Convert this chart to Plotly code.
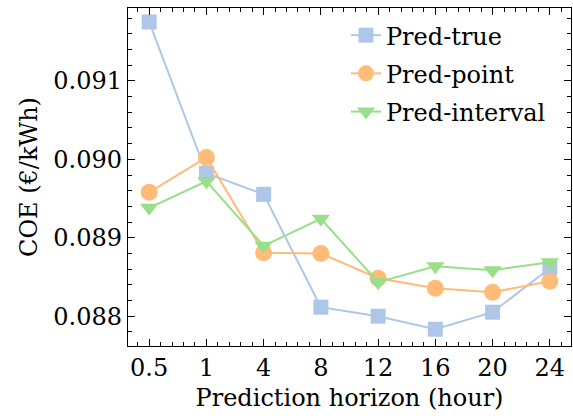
import plotly.graph_objects as go

categories = ["0.5", "1", "4", "8", "12", "16", "20", "24"]
pred_true = [0.091752, 0.089822, 0.089554, 0.088115, 0.088000, 0.087834, 0.088051, 0.088611]
pred_point = [0.089580, 0.090025, 0.088809, 0.088800, 0.088484, 0.088357, 0.088306, 0.088446]
pred_interval = [0.089382, 0.089720, 0.088898, 0.089242, 0.088433, 0.088637, 0.088586, 0.088688]

xpos = list(range(len(categories)))
FONT = "DejaVu Serif"

fig = go.Figure()
series = [
    ("Pred-true", pred_true, "#aec7e8", "square", 15),
    ("Pred-point", pred_point, "#ffbb78", "circle", 17),
    ("Pred-interval", pred_interval, "#98df8a", "triangle-down", 16),
]
for name, vals, col, sym, sz in series:
    fig.add_trace(go.Scatter(
        x=xpos, y=vals, name=name, mode="lines+markers", legendgroup=name,
        line=dict(color=col, width=2),
        marker=dict(color=col, symbol=sym, size=sz, line=dict(width=0)),
    ))

axis_common = dict(
    showline=True, linecolor="black", linewidth=1.3, mirror="allticks",
    ticks="inside", ticklen=7, tickwidth=1, tickcolor="black",
    showgrid=False, zeroline=False,
    tickfont=dict(family=FONT, size=24, color="black"),
)

fig.update_xaxes(
    **axis_common,
    range=[-0.37, 7.37],
    tickmode="array", tickvals=xpos, ticktext=categories,
    minor=dict(ticks="inside", ticklen=4, tickwidth=1, tickcolor="black", dtick=0.2, tick0=0, showgrid=False),
    title=dict(text="Prediction horizon (hour)", font=dict(family=FONT, size=24, color="black"), standoff=8),
)
fig.update_yaxes(
    **axis_common,
    range=[0.08762, 0.09193],
    tickmode="array", tickvals=[0.088, 0.089, 0.090, 0.091],
    ticktext=["0.088", "0.089", "0.090", "0.091"],
    minor=dict(ticks="inside", ticklen=4, tickwidth=1, tickcolor="black", dtick=0.0002, tick0=0.088, showgrid=False),
    title=dict(text="COE (€/kWh)", font=dict(family=FONT, size=24, color="black"), standoff=8),
)

fig.update_layout(
    width=573, height=416,
    margin=dict(l=128, r=2, t=8, b=70),
    plot_bgcolor="white", paper_bgcolor="white",
    legend=dict(
        x=0.492, y=0.985, xanchor="left", yanchor="top",
        font=dict(family=FONT, size=24, color="black"),
        bgcolor="rgba(0,0,0,0)", tracegroupgap=4,
    ),
    font=dict(family=FONT),
)

fig.write_html("out.html")
